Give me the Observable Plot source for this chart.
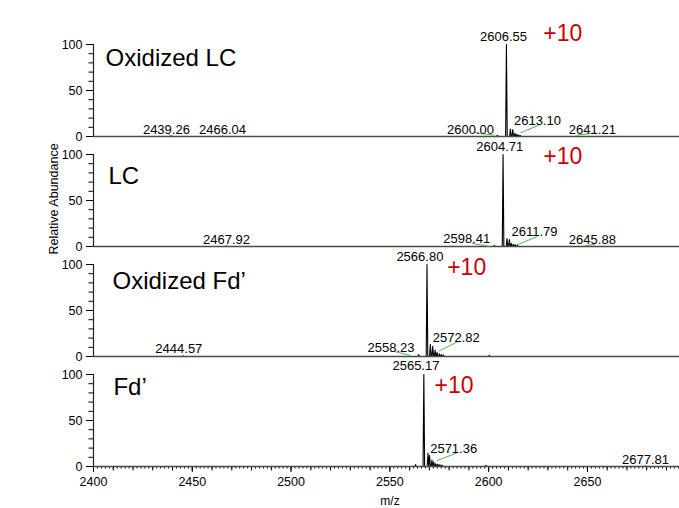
<!DOCTYPE html>
<html><head><meta charset="utf-8">
<script src="https://cdn.jsdelivr.net/npm/d3@7"></script>
<script src="https://cdn.jsdelivr.net/npm/@observablehq/plot@0.6"></script>
<style>
html,body{margin:0;padding:0;background:#fff;}
#chart{position:relative;width:679px;height:508px;overflow:hidden;}
</style></head><body><div id="chart"></div>
<script>
// ---- panels ----
const panels = ["Oxidized LC", "LC", "Oxidized Fd’", "Fd’"];
const xDomain = [2400, 2696.6];
const xTicks = [2400, 2450, 2500, 2550, 2600, 2650];
const yTicks = [0, 50, 100];

// ---- spectra: [m/z, relative abundance] ----
const peaksOxLC = [[2439.5,0.6],[2465.3,0.5],[2604.4,1.2],[2609.0,100],[2611.0,8],[2612.2,7.5],[2613.3,3.5],[2614.3,2.5],[2615.3,1.5],[2616.1,1],[2644.8,0.4]];
const peaksLC   = [[2467.3,0.5],[2602.9,1.2],[2607.3,100],[2609.3,8.7],[2610.5,7.6],[2611.5,3.5],[2612.6,2.5],[2613.6,1.8],[2614.6,1.2],[2649.0,0.4]];
const peaksOxFd = [[2445.4,0.6],[2564.6,2],[2568.8,100],[2570.5,13],[2571.7,11],[2572.9,7],[2573.9,4.5],[2575.1,3],[2576.1,2],[2577.1,1.5],[2600.3,1.2]];
const peaksFd   = [[2563.0,2],[2567.2,100],[2569.3,14.5],[2570.1,12],[2571.3,7],[2572.2,5],[2573.2,3],[2574.2,2.5],[2575.3,2],[2576.4,1.5],[2598.7,1.2],[2679.4,0.5]];

// ---- peak labels: [text, x, y] ----
const labelsOxLC = [["2606.55",2607.5,108.7],["2600.00",2590.8,7.6],["2613.10",2624.7,16.6],["2641.21",2652.5,6.9],["2439.26",2436.9,6.9],["2466.04",2465.3,6.9]];
const labelsLC   = [["2604.71",2605.6,108.4],["2598.41",2588.9,8.7],["2611.79",2623.2,16.0],["2645.88",2652.5,7.3],["2467.92",2467.3,6.8]];
const labelsOxFd = [["2566.80",2565.2,108.7],["2572.82",2583.6,20.3],["2558.23",2550.6,9.4],["2444.57",2443.2,8.4]];
const labelsFd   = [["2565.17",2563.2,109.8],["2571.36",2582.3,19.2],["2677.81",2679.4,7.6]];

// ---- green leader lines: [x1, y1, x2, y2] ----
const leadersOxLC = [[2592.5,4.3,2602.6,1.4],[2616.1,4.0,2626.2,13.0],[2644.8,1.4,2654.0,4.0],[2438.0,2.2,2439.5,0.5]];
const leadersLC   = [[2591.6,3.3,2600.9,0],[2614.4,1.8,2624.8,10.9],[2649.0,0.8,2654.0,2.5]];
const leadersOxFd = [[2574.7,5.8,2584.9,16.6],[2551.7,5.8,2560.4,1.1]];
const leadersFd   = [[2573.9,6.5,2583.7,14.5]];

// ---- panel titles and charge states: [text, x, y] ----
const titles  = [["Oxidized LC",2406.1,84.5],["LC",2407.6,76.1],["Oxidized Fd’",2409.6,81.2],["Fd’",2410.1,86.6]];
const charges = [["+10",2627.7,111.6],["+10",2627.7,97.2],["+10",2579.0,96.4],["+10",2572.6,87.4]];

const allPeaks = [peaksOxLC, peaksLC, peaksOxFd, peaksFd];
const allLabels = [labelsOxLC, labelsLC, labelsOxFd, labelsFd];
const allLeaders = [leadersOxLC, leadersLC, leadersOxFd, leadersFd];

const halfWidth = 0.4;
const profile = [];
allPeaks.forEach((pk, k) => {
  const panel = panels[k];
  profile.push({panel, mz: xDomain[0], i: 0});
  for (const [m, h] of pk) {
    profile.push({panel, mz: m - halfWidth, i: 0}, {panel, mz: m, i: h}, {panel, mz: m + halfWidth, i: 0});
  }
  profile.push({panel, mz: xDomain[1], i: 0});
});
const peakLabels = allLabels.flatMap((arr, k) => arr.map(([t, x, y]) => ({panel: panels[k], t, x, y})));
const leaders = allLeaders.flatMap((arr, k) => arr.map(([x1, y1, x2, y2]) => ({panel: panels[k], x1, y1, x2, y2})));
const titleData = titles.map(([t, x, y], k) => ({panel: panels[k], t, x, y}));
const chargeData = charges.map(([t, x, y], k) => ({panel: panels[k], t, x, y}));

const font = "Arial, 'Liberation Sans', sans-serif";
const chart = Plot.plot({
  width: 679, height: 508,
  marginTop: 43, marginBottom: 42, marginLeft: 93, marginRight: 0,
  x: {domain: xDomain, label: null},
  y: {domain: [0, 100], label: null},
  fy: {domain: panels, paddingInner: 0.166, paddingOuter: 0, axis: null, label: null},
  style: {fontFamily: font, fontSize: "12.5px", color: "#000", background: "#fff", overflow: "visible"},
  marks: [
    Plot.axisY({ticks: d3.range(0, 101, 10), tickSize: 4.5, text: null, label: null}),
    Plot.axisY({ticks: yTicks, tickSize: 7, tickPadding: 4, label: null, fontSize: 12.5, tickFormat: d => String(d)}),
    Plot.axisX({ticks: d3.range(2400, 2697, 2), tickSize: 2.5, text: null, label: null}),
    Plot.axisX({ticks: d3.range(2400, 2697, 10), tickSize: 4.5, text: null, label: null}),
    Plot.axisX({ticks: xTicks, tickSize: 6, tickPadding: 5, label: null, fontSize: 12.5, tickFormat: d => String(d)}),
    Plot.line(profile, {x: "mz", y: "i", fy: "panel", z: "panel", stroke: "#000", strokeWidth: 1.1, curve: "linear"}),
    Plot.ruleY([0], {stroke: "#4a4a4a", strokeWidth: 1.6}),
    Plot.ruleX([xDomain[0]], {y1: 0, y2: 100, stroke: "#222", strokeWidth: 1.2}),
    Plot.link(leaders, {x1: "x1", y1: "y1", x2: "x2", y2: "y2", fy: "panel", stroke: "#4cb84a", strokeWidth: 1}),
    Plot.text(peakLabels, {x: "x", y: "y", text: "t", fy: "panel", fontSize: 13, lineAnchor: "middle", fill: "#000"}),
    Plot.text(titleData, {x: "x", y: "y", text: "t", fy: "panel", fontSize: 24, textAnchor: "start", lineAnchor: "middle", fill: "#000"}),
    Plot.text(chargeData, {x: "x", y: "y", text: "t", fy: "panel", fontSize: 23, textAnchor: "start", lineAnchor: "middle", fill: "#cc0000"})
  ]
});

const svg = d3.select(chart);
svg.append("text")
  .attr("transform", "translate(58,199) rotate(-90)")
  .attr("text-anchor", "middle")
  .attr("font-family", font).attr("font-size", 12.5).attr("fill", "#000")
  .text("Relative Abundance");
svg.append("text")
  .attr("x", 390).attr("y", 505)
  .attr("text-anchor", "middle")
  .attr("font-family", font).attr("font-size", 12).attr("fill", "#000")
  .text("m/z");

document.getElementById("chart").appendChild(chart);
</script></body></html>
